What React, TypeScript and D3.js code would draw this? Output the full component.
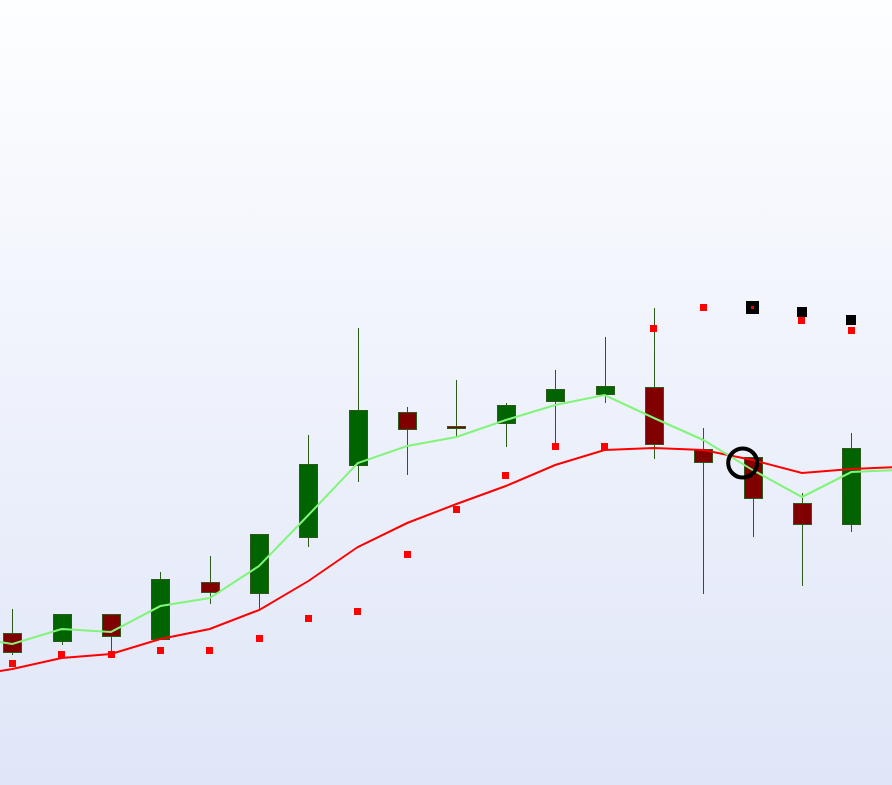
import React from "react";
import * as d3 from "d3";

const W = 892;
const H = 785;

// OHLC candles (index 0..17)
const opens = [15.2, 14.4, 17.1, 14.6, 20.3, 19.2, 24.8, 32.0, 37.3, 35.9, 36.2, 38.4, 39.1, 39.8, 33.6, 32.8, 28.2, 26.1];
const highs = [17.6, 17.1, 17.1, 21.3, 22.9, 25.1, 35.0, 45.7, 37.8, 40.5, 38.2, 41.5, 44.8, 47.7, 35.7, 32.8, 29.2, 35.2];
const lows = [13.0, 14.0, 13.2, 14.6, 18.1, 17.5, 23.8, 30.3, 31.0, 34.7, 33.8, 33.8, 38.2, 32.6, 19.1, 24.8, 19.9, 25.3];
const closes = [13.3, 17.1, 14.9, 20.6, 19.3, 25.1, 32.1, 37.5, 35.6, 35.7, 38.0, 39.6, 39.9, 34.1, 32.3, 28.7, 26.1, 33.7];

// Moving averages, index -1..18 (extend past the edges)
const fastMA = [14.9, 14.1, 15.6, 15.3, 17.9, 18.7, 21.9, 27.0, 32.2, 33.9, 34.8, 36.5, 38.0, 39.0, 36.7, 34.5, 31.5, 28.8, 31.3, 31.5];
const slowMA = [10.8, 11.6, 12.7, 13.1, 14.6, 15.6, 17.5, 20.4, 23.8, 26.2, 28.1, 29.9, 32.0, 33.5, 33.7, 33.5, 32.5, 31.2, 31.6, 31.8];

// Parabolic SAR dots (index 0..17)
const sarValues = [12.2, 13.1, 13.1, 13.5, 13.5, 14.7, 16.7, 17.4, 23.1, 27.6, 31.0, 33.9, 33.9, 45.7, 47.7, 47.8, 46.5, 45.5];

// Signal markers
const signalIdx = [15, 16, 17];
const signalValues = [47.8, 47.3, 46.5];

// Highlight circle
const circleIdx = 14.8;
const circleValue = 32.2;

export default function App() {
  const x = d3.scaleLinear().domain([0, 17]).range([12.3, 851.3]);
  const y = d3.scaleLinear().domain([0, 78.5]).range([H, 0]);

  const line = d3
    .line<number>()
    .x((_, i) => x(i - 1))
    .y((d) => y(d));

  const bodyW = 17;
  const wickColor = "#2d5a1b";
  const sarSizes = sarValues.map((_, i) => (i === 15 ? 3 : 7));
  const signalSizes = [13, 10, 10];

  return (
    <svg
      width={W}
      height={H}
      style={{ position: "fixed", left: 0, top: 0, display: "block" }}
    >
      <defs>
        <linearGradient id="bg" x1="0" y1="0" x2="0" y2="1">
          <stop offset="0%" stopColor="#fdfeff" />
          <stop offset="100%" stopColor="#e0e6f8" />
        </linearGradient>
      </defs>
      <rect x={0} y={0} width={W} height={H} fill="url(#bg)" />

      <g>
        {opens.map((o, i) => {
          const c = closes[i];
          const up = c >= o;
          const cx = Math.round(x(i)) + 0.5;
          const top = Math.round(y(Math.max(o, c))) + 0.5;
          const bot = Math.round(y(Math.min(o, c))) + 0.5;
          return (
            <g key={i}>
              <line
                x1={cx}
                x2={cx}
                y1={Math.round(y(highs[i]))}
                y2={Math.round(y(lows[i]))}
                stroke={wickColor}
                strokeWidth={1}
              />
              <rect
                x={cx - bodyW / 2 - 0.5}
                y={top}
                width={bodyW + 1}
                height={Math.max(bot - top, 2)}
                fill={up ? "#006400" : "#800000"}
                stroke={wickColor}
                strokeWidth={1}
              />
            </g>
          );
        })}
      </g>

      <path d={line(slowMA) || ""} fill="none" stroke="#ff0000" strokeWidth={2} />
      <path d={line(fastMA) || ""} fill="none" stroke="#80f57a" strokeWidth={2} />

      <g>
        {signalIdx.map((idx, k) => (
          <rect
            key={k}
            x={Math.round(x(idx) - signalSizes[k] / 2)}
            y={Math.round(y(signalValues[k]) - signalSizes[k] / 2)}
            width={signalSizes[k]}
            height={signalSizes[k]}
            fill="#000000"
          />
        ))}
      </g>

      <g>
        {sarValues.map((v, i) => (
          <rect
            key={i}
            x={Math.round(x(i) - sarSizes[i] / 2)}
            y={Math.round(y(v) - sarSizes[i] / 2)}
            width={sarSizes[i]}
            height={sarSizes[i]}
            fill="#ff0000"
          />
        ))}
      </g>

      <circle
        cx={x(circleIdx)}
        cy={y(circleValue)}
        r={14.5}
        fill="none"
        stroke="#000000"
        strokeWidth={4}
      />
    </svg>
  );
}
